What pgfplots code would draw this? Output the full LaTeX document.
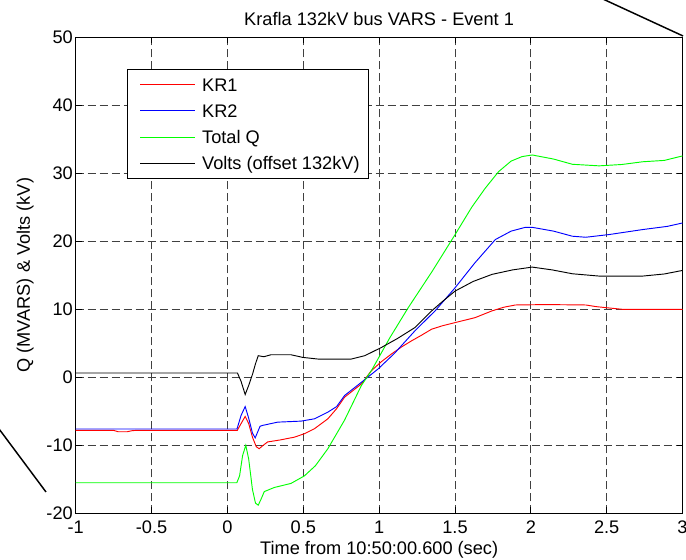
\documentclass[border=0pt]{standalone}
\usepackage{fontspec}
\setmainfont{Liberation Sans}
\usepackage{pgfplots}
\pgfplotsset{compat=1.18}
\begin{document}
\fontsize{13.65}{16}\selectfont
\begin{tikzpicture}
\path[use as bounding box] (-56.8pt,-35pt) rectangle (457.7pt,385pt);
\clip (-56.8pt,-35pt) rectangle (457.7pt,385pt);
\begin{axis}[
  at={(0,0)}, anchor=south west,
  scale only axis, width=455.1pt, height=357pt,
  xmin=-1, xmax=3, ymin=-20, ymax=50,
  xtick={-1,-0.5,0,0.5,1,1.5,2,2.5,3},
  ytick={-20,-10,0,10,20,30,40,50},
  /pgf/number format/assume math mode=true,
  tick align=inside, tick pos=both,
  major tick length=4.5pt,
  every tick/.style={black, line width=0.6pt},
  axis line style={black, line width=0.75pt},
  grid=major,
  major grid style={black!75, line width=0.55pt, dash pattern=on 6pt off 3pt},
  xticklabel style={anchor=base, yshift=-15pt, inner sep=0pt},
  yticklabel style={anchor=east, xshift=-2pt, inner sep=0pt},
  title={Krafla 132kV bus VARS - Event 1},
  title style={at={(axis description cs:0.5,1)}, anchor=base, yshift=3.2pt, inner sep=0pt},
  xlabel={Time from 10:50:00.600 (sec)},
  xlabel style={at={(axis description cs:0.5,0)}, anchor=base, yshift=-31pt, inner sep=0pt},
  ylabel={Q (MVARS) \& Volts (kV)},
  ylabel style={at={(axis description cs:-0.0754,0.5)}, anchor=base, inner sep=0pt},
  legend cell align=left,
  legend image code/.code={\path (-2.7pt,0) (46pt,0); \draw[#1] (0pt,0pt) -- (41pt,0pt);},
  legend style={at={(axis description cs:0.0851,0.933)}, anchor=north west,
    draw=black, line width=0.75pt, fill=white,
    inner xsep=6.3pt, inner ysep=6.4pt, row sep=9.8pt,
    nodes={inner sep=0pt, text height=9.8pt, text depth=0pt}},
  every axis plot/.append style={line width=0.7pt},
]
\addplot[red] coordinates {
(-1,-7.8) (-0.75,-7.8) (-0.72,-8.0) (-0.66,-8.0) (-0.63,-7.85) (-0.6,-7.8)
(0.065,-7.8) (0.09,-6.8) (0.117,-5.75) (0.14,-6.8) (0.165,-8.8) (0.19,-10.2)
(0.209,-10.5) (0.23,-10.1) (0.265,-9.5) (0.35,-9.2) (0.441,-8.8) (0.507,-8.3)
(0.574,-7.55) (0.662,-6.1) (0.72,-4.6) (0.772,-2.93) (0.83,-1.9) (0.883,-0.97)
(0.949,0.98) (1.015,2.3) (1.081,3.43) (1.15,4.5) (1.214,5.37) (1.28,6.2)
(1.346,7.08) (1.42,7.6) (1.501,8.05) (1.633,8.78) (1.744,9.77) (1.82,10.3)
(1.898,10.64) (2.1,10.7) (2.362,10.64) (2.43,10.4) (2.494,10.25) (2.605,10.0) (3.0,10.0)
};
\addlegendentry{KR1}
\addplot[blue] coordinates {
(-1,-7.6) (0.063,-7.6) (0.09,-5.6) (0.117,-4.3) (0.14,-6.0) (0.165,-8.2)
(0.183,-8.9) (0.2,-8.0) (0.215,-7.2) (0.232,-7.07) (0.331,-6.59) (0.485,-6.44)
(0.574,-6.1) (0.662,-5.12) (0.72,-4.3) (0.772,-2.68) (0.883,-0.73) (0.993,1.23)
(1.1,3.5) (1.236,6.84) (1.37,9.8) (1.501,13.18) (1.63,16.8) (1.766,20.26)
(1.87,21.5) (1.964,22.06) (2.009,22.06) (2.15,21.5) (2.274,20.75) (2.362,20.6)
(2.517,21.0) (2.737,21.73) (2.9,22.2) (3.0,22.7)
};
\addlegendentry{KR2}
\addplot[green] coordinates {
(-1,-15.5) (0.062,-15.5) (0.08,-14.5) (0.1,-11.5) (0.121,-10.0) (0.14,-12.0)
(0.165,-16.5) (0.185,-18.5) (0.203,-18.8) (0.22,-18.0) (0.243,-16.8) (0.309,-16.2)
(0.419,-15.6) (0.507,-14.5) (0.58,-13.0) (0.662,-10.5) (0.772,-6.3) (0.883,-1.2)
(0.949,0.98) (1.07,5.8) (1.192,10.25) (1.35,15.6) (1.501,21.0) (1.61,25.0)
(1.699,27.8) (1.788,30.26) (1.87,31.8) (1.942,32.46) (2.009,32.7) (2.15,32.1)
(2.274,31.33) (2.45,31.1) (2.6,31.3) (2.737,31.7) (2.88,31.9) (3.0,32.56)
};
\addlegendentry{Total Q}
\addplot[black] coordinates {
(-1,0.64) (0.066,0.64) (0.09,-0.6) (0.117,-2.53) (0.14,-1.2) (0.166,0.5)
(0.185,2.0) (0.203,3.18) (0.24,3.03) (0.287,3.32) (0.419,3.32) (0.497,2.93)
(0.596,2.69) (0.75,2.69) (0.817,2.69) (0.905,3.18) (1.015,4.39) (1.12,5.7)
(1.236,7.32) (1.346,9.77) (1.42,11.2) (1.501,12.69) (1.62,14.1) (1.744,15.14)
(1.88,15.8) (2.009,16.21) (2.14,15.8) (2.274,15.23) (2.45,14.89) (2.737,14.89)
(2.88,15.2) (3.0,15.72)
};
\addlegendentry{Volts (offset 132kV)}
\end{axis}
\draw[black, line width=1.1pt] (385.7pt,390.2pt) -- (455.5pt,358pt);
\draw[black, line width=1.1pt] (-64.3pt,72.4pt) -- (-22.3pt,16pt);
\end{tikzpicture}
\end{document}
